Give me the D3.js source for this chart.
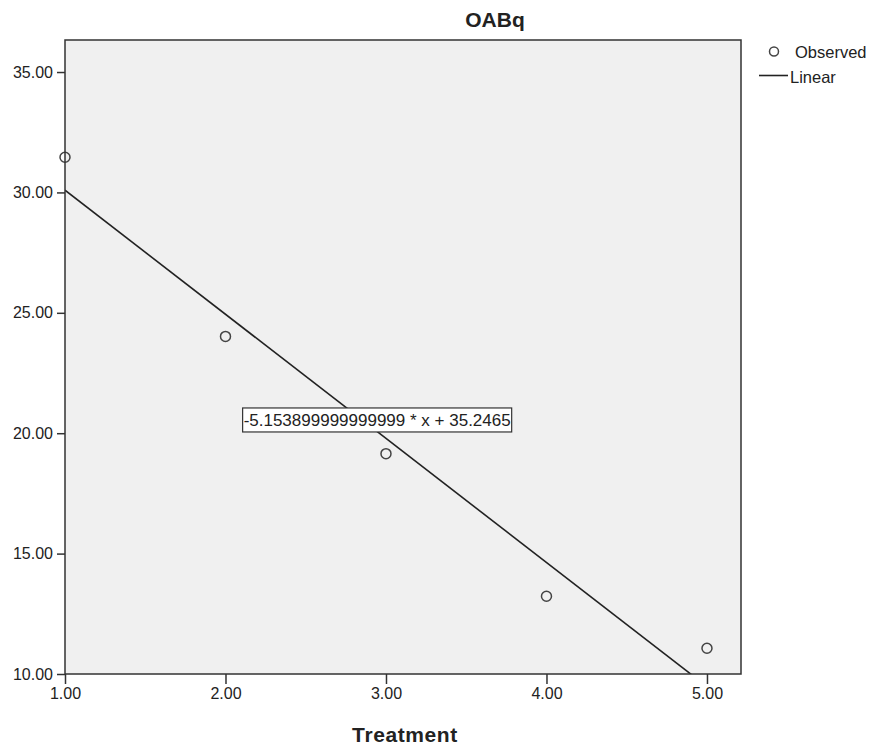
<!DOCTYPE html>
<html>
<head>
<meta charset="utf-8">
<script src="https://cdn.jsdelivr.net/npm/d3@7"></script>
<style>
  body { margin: 0; background: #fff; }
  text { font-family: Arial, "Liberation Sans", sans-serif; fill: #222; }
</style>
</head>
<body>
<div id="chart"></div>
<script>
// data
var treatment = [1, 2, 3, 4, 5];
var observed = [31.46, 24.02, 19.15, 13.23, 11.07];
var xTicks = [1, 2, 3, 4, 5];
var yTicks = [10, 15, 20, 25, 30, 35];
var slope = -5.153899999999999, intercept = 35.2465;
var eqLabel = "-5.153899999999999 * x + 35.2465";

var width = 872, height = 748;
// plot frame edges (window.top is reserved, so prefix them)
var plotLeft = 65, plotRight = 741, plotTop = 40, plotBottom = 674;

var svg = d3.select('#chart').append('svg')
  .attr('width', width)
  .attr('height', height);

var x = d3.scaleLinear().domain([1, 5.212]).range([plotLeft, plotRight]);
var y = d3.scaleLinear().domain([10, 36.33]).range([plotBottom, plotTop]);

// plot background
svg.append('rect')
  .attr('x', plotLeft).attr('y', plotTop)
  .attr('width', plotRight - plotLeft).attr('height', plotBottom - plotTop)
  .attr('fill', '#f0f0f0');

svg.append('clipPath').attr('id', 'plotclip')
  .append('rect')
  .attr('x', plotLeft).attr('y', plotTop)
  .attr('width', plotRight - plotLeft).attr('height', plotBottom - plotTop);

// axes
var yAxis = svg.append('g')
  .attr('transform', 'translate(' + plotLeft + ',0)')
  .call(d3.axisLeft(y).tickValues(yTicks).tickFormat(d3.format('.2f')).tickSize(8).tickPadding(4));
var xAxis = svg.append('g')
  .attr('transform', 'translate(0,' + plotBottom + ')')
  .call(d3.axisBottom(x).tickValues(xTicks).tickFormat(d3.format('.2f')).tickSize(10).tickPadding(4));

[xAxis, yAxis].forEach(function(a) {
  a.select('.domain').remove();
  a.selectAll('line').attr('stroke', '#333').attr('stroke-width', 1.5);
  a.selectAll('text').style('font-size', '16px').attr('fill', '#222')
    .style('font-family', 'Arial, "Liberation Sans", sans-serif');
});

// regression line
var x0 = 1, x1 = 5.212;
svg.append('line')
  .attr('clip-path', 'url(#plotclip)')
  .attr('x1', x(x0)).attr('y1', y(slope * x0 + intercept))
  .attr('x2', x(x1)).attr('y2', y(slope * x1 + intercept))
  .attr('stroke', '#222').attr('stroke-width', 1.6);

// observed points
svg.append('g').selectAll('circle')
  .data(treatment)
  .enter().append('circle')
  .attr('cx', function(d) { return x(d); })
  .attr('cy', function(d, i) { return y(observed[i]); })
  .attr('r', 5)
  .attr('fill', 'none')
  .attr('stroke', '#444')
  .attr('stroke-width', 1.5);

// frame
svg.append('rect')
  .attr('x', plotLeft).attr('y', plotTop)
  .attr('width', plotRight - plotLeft).attr('height', plotBottom - plotTop)
  .attr('fill', 'none')
  .attr('stroke', '#333').attr('stroke-width', 1.5);

// equation label
var eq = svg.append('g');
var eqText = eq.append('text')
  .attr('x', x(2.113))
  .attr('y', y(20.55))
  .attr('dy', '0.36em')
  .style('font-size', '17px')
  .text(eqLabel);
var bb = eqText.node().getBBox();
eq.insert('rect', 'text')
  .attr('x', bb.x - 1).attr('y', y(20.55) - 12)
  .attr('width', bb.width + 2).attr('height', 24)
  .attr('fill', '#fff')
  .attr('stroke', '#333').attr('stroke-width', 1.2);

// title and axis label
svg.append('text')
  .attr('x', 495).attr('y', 27)
  .attr('text-anchor', 'middle')
  .style('font-size', '21px').style('font-weight', 'bold')
  .attr('fill', '#111')
  .text('OABq');

svg.append('text')
  .attr('x', 405).attr('y', 742)
  .attr('text-anchor', 'middle')
  .style('font-size', '21px').style('font-weight', 'bold')
  .style('letter-spacing', '0.6px')
  .attr('fill', '#111')
  .text('Treatment');

// legend
var legend = svg.append('g');
legend.append('circle')
  .attr('cx', 774).attr('cy', 51.5).attr('r', 4.5)
  .attr('fill', 'none').attr('stroke', '#444').attr('stroke-width', 1.5);
legend.append('text')
  .attr('x', 795).attr('y', 57.5)
  .style('font-size', '16.5px')
  .text('Observed');
legend.append('line')
  .attr('x1', 759).attr('x2', 788).attr('y1', 75.5).attr('y2', 75.5)
  .attr('stroke', '#222').attr('stroke-width', 1.6);
legend.append('text')
  .attr('x', 790).attr('y', 83)
  .style('font-size', '16.5px')
  .text('Linear');
</script>
</body>
</html>
